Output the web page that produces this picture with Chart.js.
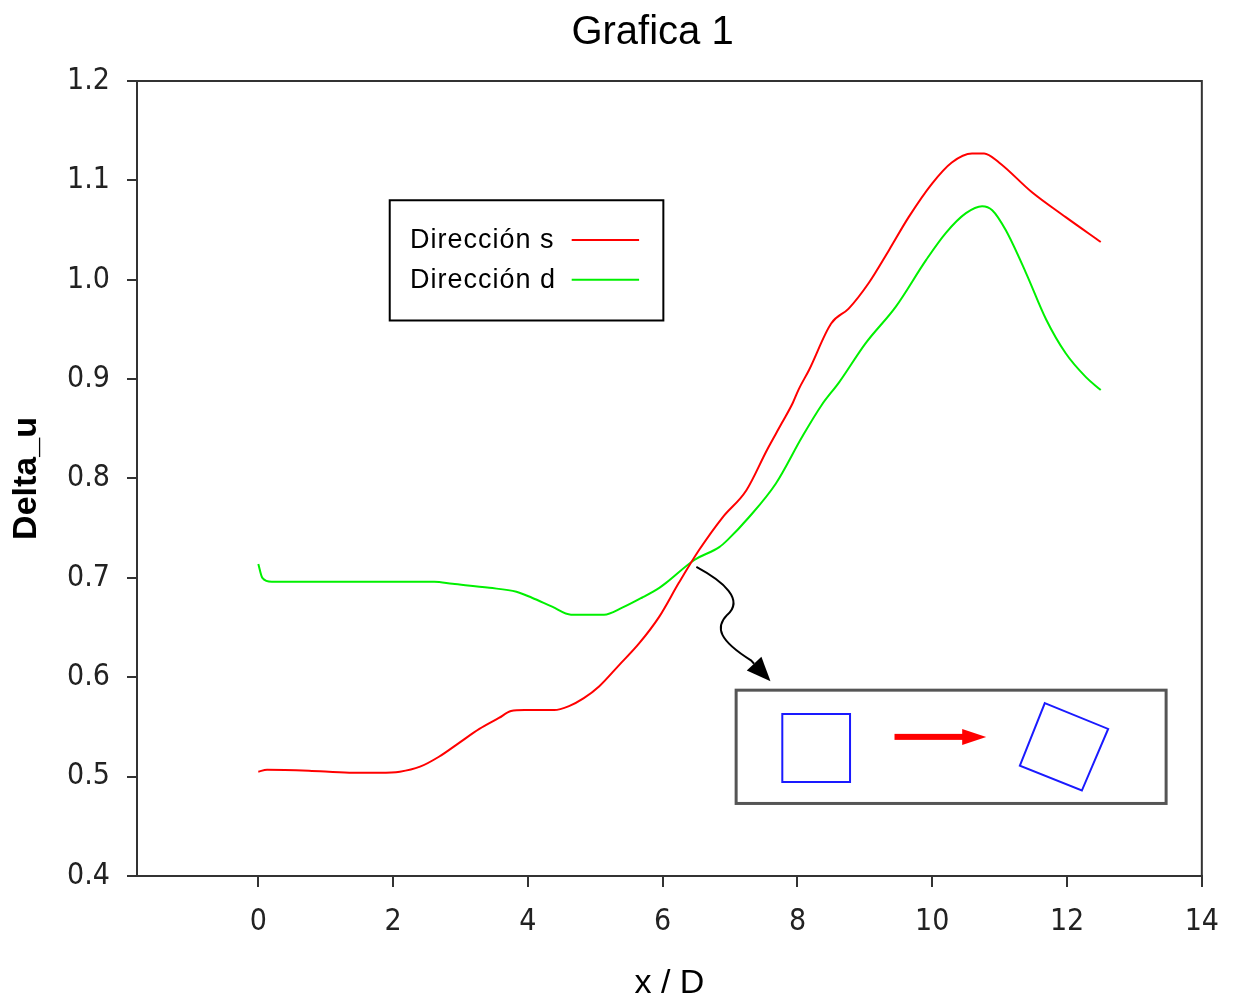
<!DOCTYPE html>
<html>
<head>
<meta charset="utf-8">
<script src="https://cdn.jsdelivr.net/npm/chart.js@4.4.1/dist/chart.umd.min.js"></script>
<style>
  html, body { margin: 0; padding: 0; background: #fff; }
  canvas { display: block; }
</style>
</head>
<body>
<canvas id="c" width="1236" height="1006"></canvas>
<script>
// ---- Data ----
const chartTitle = 'Grafica 1';
const seriesNames = ['Dirección s', 'Dirección d'];

const sX = [0, 0.13, 0.75, 1.35, 1.8, 2.1, 2.4, 2.68, 2.98, 3.28, 3.57, 3.75, 3.95, 4.39, 4.61, 4.83, 5.06, 5.35, 5.65, 5.95, 6.24, 6.54, 6.89, 7.24, 7.55, 7.77, 7.93, 8.02, 8.17, 8.5, 8.76, 9.06, 9.36, 9.65, 10.0, 10.29, 10.59, 10.77, 10.99, 11.48, 11.98, 12.5];
const sY = [0.505, 0.507, 0.506, 0.504, 0.504, 0.505, 0.510, 0.520, 0.534, 0.548, 0.559, 0.566, 0.567, 0.567, 0.571, 0.579, 0.591, 0.612, 0.634, 0.661, 0.695, 0.728, 0.761, 0.788, 0.829, 0.856, 0.876, 0.890, 0.909, 0.956, 0.971, 0.997, 1.030, 1.063, 1.097, 1.118, 1.127, 1.127, 1.118, 1.088, 1.063, 1.038];

const dX = [0, 0.06, 0.2, 2.61, 2.88, 3.43, 3.83, 4.06, 4.36, 4.64, 5.13, 5.40, 5.69, 5.95, 6.05, 6.47, 6.84, 6.96, 7.28, 7.68, 8.07, 8.36, 8.62, 9.01, 9.46, 9.91, 10.2, 10.5, 10.74, 10.89, 11.09, 11.39, 11.69, 11.98, 12.28, 12.5];
const dY = [0.714, 0.700, 0.696, 0.696, 0.694, 0.690, 0.686, 0.680, 0.671, 0.663, 0.663, 0.670, 0.680, 0.690, 0.695, 0.718, 0.731, 0.738, 0.761, 0.795, 0.842, 0.874, 0.897, 0.936, 0.973, 1.020, 1.047, 1.067, 1.074, 1.070, 1.050, 1.007, 0.960, 0.926, 0.902, 0.889];

const xTicks = [0, 2, 4, 6, 8, 10, 12, 14];
const yTicks = [0.4, 0.5, 0.6, 0.7, 0.8, 0.9, 1.0, 1.1, 1.2];

// ---- Decorations (in data units) ----
const titlePos = { x: 5.85, y: 1.248 };
const legendBox = { x0: 1.95, x1: 6.01, y0: 1.080, y1: 0.959, textX: 2.25, lineX0: 4.65, lineX1: 5.65, rows: [1.040, 1.000] };
const insetBox = { x0: 7.09, x1: 13.47, y0: 0.587, y1: 0.473 };
const squareA = [[7.775, 0.563], [8.78, 0.563], [8.78, 0.4946], [7.775, 0.4946]];
const squareB = [[11.67, 0.574], [12.61, 0.548], [12.22, 0.486], [11.30, 0.511]];
const redArrow = { x0: 9.44, x1: 10.80, y: 0.540 };
const curvePath = [[6.50, 0.711], [6.91, 0.696], [7.21, 0.678], [6.96, 0.663], [6.77, 0.650], [6.84, 0.637], [7.31, 0.617], [7.60, 0.596]];

const FONT = "'Liberation Sans', Arial, sans-serif";
const NARROW = "'Liberation Sans Narrow', 'Arial Narrow', 'DejaVu Sans Condensed', 'Liberation Sans', sans-serif";

const decorations = {
  id: 'decorations',
  afterDraw(chart) {
    const { ctx, chartArea: a, scales: { x, y } } = chart;
    const P = (px, py) => [x.getPixelForValue(px), y.getPixelForValue(py)];
    ctx.save();
    // title
    const [tx0, ty0] = P(titlePos.x, titlePos.y);
    ctx.font = "40px " + FONT;
    ctx.fillStyle = '#000';
    ctx.textAlign = 'center';
    ctx.textBaseline = 'middle';
    ctx.fillText(chart.options.plugins.title.text, tx0, ty0);

    // frame top/right
    ctx.strokeStyle = '#333';
    ctx.lineWidth = 2;
    ctx.beginPath();
    ctx.moveTo(a.left, a.top);
    ctx.lineTo(a.right, a.top);
    ctx.lineTo(a.right, a.bottom);
    ctx.stroke();

    // legend
    const [lx0, ly0] = P(legendBox.x0, legendBox.y0);
    const [lx1, ly1] = P(legendBox.x1, legendBox.y1);
    ctx.strokeStyle = '#000';
    ctx.lineWidth = 2;
    ctx.strokeRect(lx0, ly0, lx1 - lx0, ly1 - ly0);
    ctx.font = "27px " + FONT;
    if ('letterSpacing' in ctx) ctx.letterSpacing = '1px';
    ctx.textBaseline = 'middle';
    ctx.textAlign = 'left';
    ctx.fillStyle = '#000';
    chart.data.datasets.forEach((ds, i) => {
      const [tx, ty] = P(legendBox.textX, legendBox.rows[i]);
      ctx.fillText(ds.label, tx, ty + 1);
      const [ax, ay] = P(legendBox.lineX0, legendBox.rows[i]);
      const [bx] = P(legendBox.lineX1, legendBox.rows[i]);
      ctx.strokeStyle = ds.borderColor;
      ctx.lineWidth = 2;
      ctx.beginPath();
      ctx.moveTo(ax, ay); ctx.lineTo(bx, ay);
      ctx.stroke();
    });
    if ('letterSpacing' in ctx) ctx.letterSpacing = '0px';

    // curved black arrow
    const pts = curvePath.map(p => P(p[0], p[1]));
    ctx.strokeStyle = '#000';
    ctx.lineWidth = 2;
    ctx.beginPath();
    ctx.moveTo(pts[0][0], pts[0][1]);
    ctx.bezierCurveTo(pts[1][0], pts[1][1], pts[2][0], pts[2][1], pts[3][0], pts[3][1]);
    ctx.bezierCurveTo(pts[4][0], pts[4][1], pts[5][0], pts[5][1], pts[6][0], pts[6][1]);
    const tip = pts[7], from = pts[6];
    const ang = Math.atan2(tip[1] - from[1], tip[0] - from[0]);
    const hl = 24, hw = 10;
    const bxp = tip[0] - hl * Math.cos(ang), byp = tip[1] - hl * Math.sin(ang);
    ctx.lineTo(bxp, byp);
    ctx.stroke();
    ctx.fillStyle = '#000';
    ctx.beginPath();
    ctx.moveTo(tip[0], tip[1]);
    ctx.lineTo(bxp + hw * Math.sin(ang), byp - hw * Math.cos(ang));
    ctx.lineTo(bxp - hw * Math.sin(ang), byp + hw * Math.cos(ang));
    ctx.closePath();
    ctx.fill();

    // inset box
    const [ix0, iy0] = P(insetBox.x0, insetBox.y0);
    const [ix1, iy1] = P(insetBox.x1, insetBox.y1);
    ctx.strokeStyle = '#555';
    ctx.lineWidth = 3;
    ctx.strokeRect(ix0, iy0, ix1 - ix0, iy1 - iy0);

    // squares
    ctx.strokeStyle = '#1a1aff';
    ctx.lineWidth = 2;
    [squareA, squareB].forEach(sq => {
      ctx.beginPath();
      sq.forEach((p, i) => {
        const [qx, qy] = P(p[0], p[1]);
        if (i === 0) ctx.moveTo(qx, qy); else ctx.lineTo(qx, qy);
      });
      ctx.closePath();
      ctx.stroke();
    });

    // red arrow
    const [rx0, ry] = P(redArrow.x0, redArrow.y);
    const [rx1] = P(redArrow.x1, redArrow.y);
    ctx.fillStyle = '#ff0000';
    ctx.fillRect(rx0, ry - 3, (rx1 - rx0) - 22, 6);
    ctx.beginPath();
    ctx.moveTo(rx1, ry);
    ctx.lineTo(rx1 - 24, ry - 8);
    ctx.lineTo(rx1 - 24, ry + 8);
    ctx.closePath();
    ctx.fill();
    ctx.restore();
  }
};

new Chart(document.getElementById('c'), {
  type: 'line',
  data: {
    datasets: [
      { label: seriesNames[0], data: sX.map((v, i) => ({ x: v, y: sY[i] })), borderColor: '#ff0000', borderWidth: 2, pointRadius: 0, fill: false, cubicInterpolationMode: 'monotone' },
      { label: seriesNames[1], data: dX.map((v, i) => ({ x: v, y: dY[i] })), borderColor: '#00f000', borderWidth: 2, pointRadius: 0, fill: false, cubicInterpolationMode: 'monotone' }
    ]
  },
  options: {
    responsive: false,
    animation: false,
    devicePixelRatio: 1,
    layout: { padding: { left: 0, right: 33, top: 81, bottom: 0 } },
    plugins: {
      legend: { display: false },
      tooltip: { enabled: false },
      title: { display: false, text: chartTitle }
    },
    scales: {
      x: {
        type: 'linear', min: -1.8, max: 14,
        afterBuildTicks: s => { s.ticks = xTicks.map(v => ({ value: v })); },
        afterFit: s => { s.height = 130; },
        ticks: { color: '#222', font: { family: NARROW, size: 30 }, padding: 17, maxRotation: 0, callback: v => String(v) },
        grid: { drawOnChartArea: false, drawTicks: true, tickLength: 11, color: '#333', lineWidth: 2 },
        border: { display: true, color: '#333', width: 2 },
        title: { display: true, text: 'x / D', color: '#000', font: { family: FONT, size: 34 }, padding: { top: 0, bottom: 2 } }
      },
      y: {
        min: 0.4, max: 1.2,
        afterBuildTicks: s => { s.ticks = yTicks.map(v => ({ value: v })); },
        afterFit: s => { s.width = 137; },
        ticks: { color: '#222', font: { family: NARROW, size: 30 }, padding: 17, callback: v => Number(v).toFixed(1) },
        grid: { drawOnChartArea: false, drawTicks: true, tickLength: 10, color: '#333', lineWidth: 2 },
        border: { display: true, color: '#333', width: 2 },
        title: { display: true, text: 'Delta_u', color: '#000', font: { family: FONT, size: 34, weight: 'bold' }, padding: { top: 6, bottom: 0 } }
      }
    }
  },
  plugins: [decorations]
});
</script>
</body>
</html>
